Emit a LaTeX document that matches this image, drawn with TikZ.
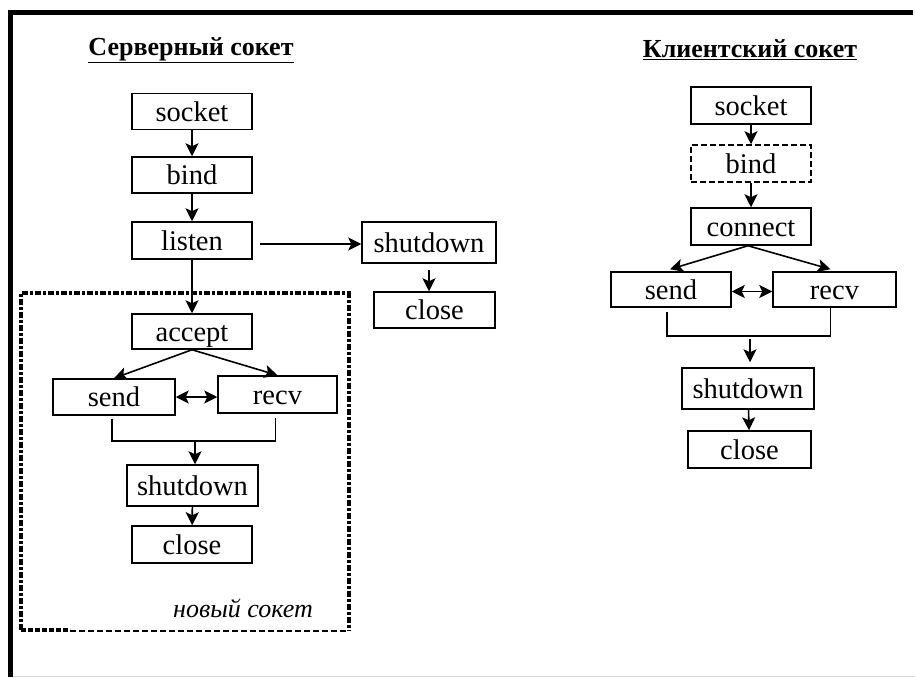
\documentclass[tikz,border=0pt]{standalone}
\usepackage{fontspec}
\setmainfont{Liberation Serif}
\usetikzlibrary{arrows.meta}
\begin{document}
\begin{tikzpicture}[x=1pt,y=-1pt,
  box/.style={draw,line width=1.5pt,inner sep=0pt,minimum width=120pt,minimum height=36pt,text height=21pt,text depth=2pt,font=\fontsize{28.5}{30}\selectfont},
  tip/.tip={Stealth[length=13pt,width=13pt,inset=3pt]},
  arr/.style={line width=1.6pt,-tip},
  darr/.style={line width=1.6pt,tip-tip},
  ln/.style={line width=1.5pt},
  ttl/.style={font=\fontsize{26}{28}\selectfont\bfseries,inner sep=0pt}]
\useasboundingbox (0,0) rectangle (915,677);
\fill[white] (0,0) rectangle (915,677);
% frame
\draw[line width=5pt] (913,12.5) -- (10.5,12.5) -- (10.5,677);
\draw[line width=1pt,black!15] (13,676) -- (915,676);
% titles
\node[ttl] (t1) at (191,50) {\underline{Серверный сокет}};
\node[ttl] (t2) at (750,50) {\underline{Клиентский сокет}};
% server
\node[box] (s_sock) at (192,111.5) {socket};
\node[box] (s_bind) at (192,175) {bind};
\node[box,minimum height=37pt] (s_listen) at (192,240.5) {listen};
\node[box,minimum width=134pt,minimum height=41pt] (s_shut2) at (429,242.5) {shutdown};
\node[box,minimum width=121pt] (s_close2) at (434.5,310) {close};
\node[box,minimum height=35pt] (s_accept) at (192,331.5) {accept};
\node[box,minimum width=122pt] (s_send) at (114,397) {send};
\node[box,minimum width=119pt,minimum height=37pt] (s_recv) at (277.5,394.5) {recv};
\node[box,minimum width=131pt,minimum height=41pt] (s_shut) at (192.5,485.5) {shutdown};
\node[box,minimum height=37pt] (s_close) at (192,544.5) {close};
% new socket dashed frame
\draw[line width=4pt,dash pattern=on 6pt off 2pt on 3pt off 2pt] (21,630) -- (21,293) -- (348.5,293) -- (348.5,630);
\draw[line width=1.3pt,dash pattern=on 6pt off 3pt] (70,631) -- (348.5,631);
\draw[line width=4pt,dash pattern=on 5pt off 2pt] (21,630) -- (70,630);
\node[inner sep=0pt,font=\fontsize{26}{28}\selectfont\itshape] (ns) at (243,608) {новый сокет};
% server connectors
\draw[arr] (s_sock) -- (s_bind);
\draw[arr] (s_bind) -- (s_listen);
\draw[arr] (s_listen) -- (s_accept);
\draw[arr] ([xshift=7pt,yshift=-3.5pt]s_listen.east) -- ([yshift=-1.5pt]s_shut2.west);
\draw[arr] ([yshift=-6pt]s_shut2.south) -- (s_close2.north -| s_shut2.south);
\draw[arr] (s_accept.south) -- (s_send.north);
\draw[arr] (s_accept.south) -- (s_recv.north);
\draw[darr] (s_send.east) -- (s_send.east -| s_recv.west);
\coordinate (sj) at (195,441);
\draw[ln] ([xshift=-2pt,yshift=-3pt]s_send.south) |- (sj) -| ([xshift=-2pt,yshift=-4pt]s_recv.south);
\draw[arr] (sj) -- (sj |- s_shut.north);
\draw[arr] (s_shut) -- (s_close);
% client
\node[box,minimum height=37pt] (c_sock) at (751,105.5) {socket};
\node[box,minimum height=37pt,dashed,dash pattern=on 6pt off 3pt] (c_bind) at (751,163.5) {bind};
\node[box,minimum height=37pt] (c_conn) at (751,226.5) {connect};
\node[box,minimum height=35pt] (c_send) at (671,289.5) {send};
\node[box,minimum width=123pt,minimum height=35pt] (c_recv) at (834.5,289.5) {recv};
\node[box,minimum width=132pt,minimum height=41pt] (c_shut) at (748,388.5) {shutdown};
\node[box,minimum width=123pt,minimum height=37pt] (c_close) at (749.5,449.5) {close};
\draw[arr] (c_sock) -- (c_bind);
\draw[arr] (c_bind) -- (c_conn);
\draw[arr] ([xshift=-3pt]c_conn.south) -- ([xshift=-1pt,yshift=2pt]c_send.north);
\draw[arr] ([xshift=-3pt]c_conn.south) -- ([xshift=-4pt,yshift=2pt]c_recv.north);
\draw[darr] ([yshift=-2pt]c_send.east) -- ([yshift=-2pt]c_send.east -| c_recv.west);
\coordinate (cj) at (750,336);
\draw[ln] ([xshift=-4pt,yshift=-4pt]c_send.south) |- (cj) -| ([xshift=-4pt]c_recv.south);
\draw[arr] ([yshift=-3pt]cj) -- ([yshift=5pt]c_shut.north -| cj);
\draw[arr] (c_shut) -- (c_close);
\end{tikzpicture}
\end{document}
